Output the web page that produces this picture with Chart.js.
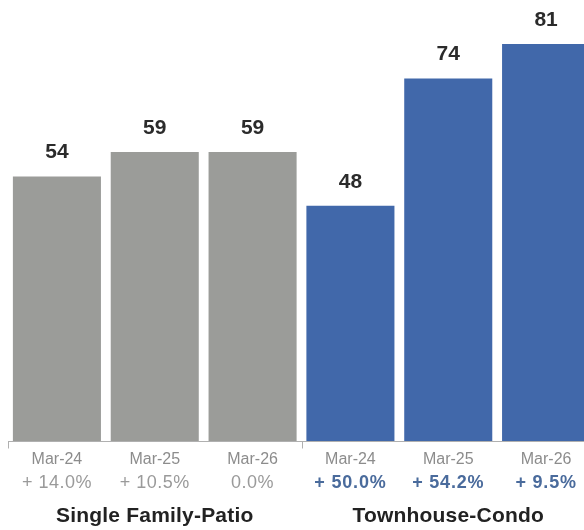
<!DOCTYPE html>
<html>
<head>
<meta charset="utf-8">
<script src="https://cdn.jsdelivr.net/npm/chart.js@4"></script>
<style>
  html, body { margin: 0; padding: 0; background: #ffffff; overflow: hidden; width: 584px; height: 530px; }
  #wrap { position: absolute; left: 0; top: 0; width: 600px; height: 530px; }
</style>
</head>
<body>
<div id="wrap"><canvas id="c" width="600" height="530"></canvas></div>
<script>
const categories = ['Mar-24', 'Mar-25', 'Mar-26', 'Mar-24', 'Mar-25', 'Mar-26'];
const values = [54, 59, 59, 48, 74, 81];
const changes = ['+ 14.0%', '+ 10.5%', '0.0%', '+ 50.0%', '+ 54.2%', '+ 9.5%'];
const groups = ['Single Family-Patio', 'Townhouse-Condo'];
const groupOf = [0, 0, 0, 1, 1, 1];

const barColors = ['#9b9c99', '#4168aa'];
const FONT = '"Liberation Sans", Arial, Helvetica, sans-serif';

function setSpacing(ctx, px) {
  if ('letterSpacing' in ctx) ctx.letterSpacing = px + 'px';
}

const annotate = {
  id: 'annotate',
  afterDatasetsDraw(chart) {
    const ctx = chart.ctx;
    const x = chart.scales.x;
    const area = chart.chartArea;
    const meta = chart.getDatasetMeta(0);
    ctx.save();
    ctx.textAlign = 'center';
    ctx.textBaseline = 'middle';
    // value labels
    ctx.fillStyle = '#2b2b2b';
    ctx.font = 'bold 21px ' + FONT;
    setSpacing(ctx, 0);
    meta.data.forEach((bar, i) => {
      ctx.fillText(String(values[i]), bar.x, bar.y - 24);
    });
    // axis line
    const base = area.bottom + 0.5;
    ctx.strokeStyle = '#b0b0b0';
    ctx.lineWidth = 1;
    ctx.beginPath();
    ctx.moveTo(area.left, base);
    ctx.lineTo(chart.width, base);
    ctx.stroke();
    // group separator ticks
    const step = x.getPixelForValue(1) - x.getPixelForValue(0);
    const tickXs = [x.getPixelForValue(0) - step / 2, (x.getPixelForValue(2) + x.getPixelForValue(3)) / 2];
    tickXs.forEach(tx => {
      ctx.beginPath();
      ctx.moveTo(Math.round(tx) + 0.5, base);
      ctx.lineTo(Math.round(tx) + 0.5, base + 7);
      ctx.stroke();
    });
    // category labels
    ctx.font = '16px ' + FONT;
    setSpacing(ctx, 0);
    ctx.fillStyle = '#8c8c8c';
    categories.forEach((c, i) => {
      ctx.fillText(c, x.getPixelForValue(i), area.bottom + 19);
    });
    // changes
    changes.forEach((c, i) => {
      if (groupOf[i] === 0) {
        ctx.font = '18px ' + FONT;
        setSpacing(ctx, 0.5);
        ctx.fillStyle = '#9a9a9a';
      } else {
        ctx.font = 'bold 18px ' + FONT;
        setSpacing(ctx, 0.8);
        ctx.fillStyle = '#4a6b9c';
      }
      ctx.fillText(c, x.getPixelForValue(i), area.bottom + 42);
    });
    // group labels
    ctx.font = 'bold 21px ' + FONT;
    setSpacing(ctx, 0.2);
    ctx.fillStyle = '#222222';
    groups.forEach((g, gi) => {
      const idx = groupOf.map((v, i) => v === gi ? i : -1).filter(i => i >= 0);
      const cx = (x.getPixelForValue(idx[0]) + x.getPixelForValue(idx[idx.length - 1])) / 2;
      ctx.fillText(g, cx, area.bottom + 75);
    });
    ctx.restore();
  }
};

new Chart(document.getElementById('c'), {
  type: 'bar',
  data: {
    labels: categories.map((c, i) => c + ' ' + i),
    datasets: [{
      data: values,
      backgroundColor: values.map((v, i) => barColors[groupOf[i]]),
      borderWidth: 0,
      barPercentage: 0.9,
      categoryPercentage: 1.0
    }]
  },
  options: {
    responsive: false,
    devicePixelRatio: 1,
    animation: false,
    layout: { padding: { left: 8, right: 5, top: 0, bottom: 89 } },
    plugins: { legend: { display: false }, tooltip: { enabled: false } },
    scales: {
      x: { display: false },
      y: { display: false, min: 0, max: 90 }
    }
  },
  plugins: [annotate]
});
</script>
</body>
</html>
